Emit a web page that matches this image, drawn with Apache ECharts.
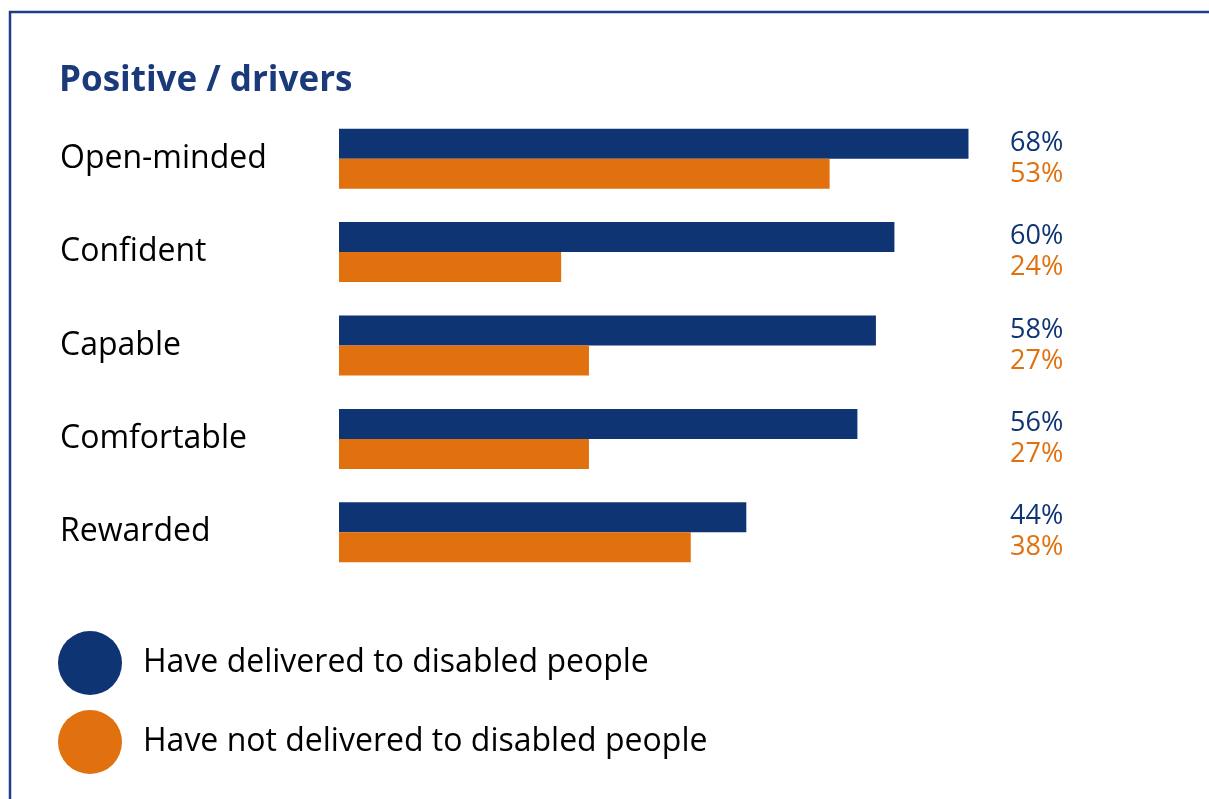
<!DOCTYPE html>
<html>
<head>
<meta charset="utf-8">
<script src="https://cdn.jsdelivr.net/npm/echarts@6/dist/echarts.min.js"></script>
<style>
  html, body { margin: 0; padding: 0; background: #fff; }
  #chart { width: 1209px; height: 799px; }
</style>
</head>
<body>
<div id="chart"></div>
<script>
// 数据
const categories = ["Open-minded", "Confident", "Capable", "Comfortable", "Rewarded"];
const delivered = [68, 60, 58, 56, 44];
const notDelivered = [53, 24, 27, 27, 38];
const seriesNames = ["Have delivered to disabled people", "Have not delivered to disabled people"];

const NAVY = "#0e3474";
const ORANGE = "#e1700e";
const FONT = "'Open Sans', 'Noto Sans', sans-serif";

const myChart = echarts.init(document.getElementById("chart"));

myChart.setOption({
	animation: false,
	textStyle: { fontFamily: FONT },
	title: {
		text: "Positive / drivers",
		left: 54,
		top: 59,
		textStyle: {
			color: "#1a3a7a",
			fontSize: 35,
			fontWeight: "bold",
			fontFamily: FONT,
		},
	},
	// 外框
	graphic: [
		{
			type: "polyline",
			shape: { points: [[10, 805], [10, 12], [1215, 12]] },
			style: { stroke: "#1f3d82", lineWidth: 2.5, fill: null },
			silent: true,
		},
	],
	legend: {
		orient: "vertical",
		left: 53,
		top: 626,
		itemWidth: 64,
		itemHeight: 64,
		itemGap: 15,
		icon: "circle",
		data: seriesNames,
		textStyle: {
			color: "#000",
			fontSize: 32,
			fontFamily: FONT,
			padding: [0, 0, 0, 16],
		},
	},
	grid: {
		left: 339,
		width: 648,
		top: 112,
		height: 467,
		containLabel: false,
	},
	xAxis: {
		type: "value",
		min: 0,
		max: 70,
		show: false,
	},
	yAxis: [
		{
			type: "category",
			data: categories,
			inverse: true,
			axisLine: { show: false },
			axisTick: { show: false },
			axisLabel: {
				align: "left",
				margin: 279,
				color: "#000",
				fontSize: 32,
				fontFamily: FONT,
				padding: [5, 0, 0, 0],
			},
		},
		{
			type: "category",
			data: categories,
			inverse: true,
			position: "right",
			axisLine: { show: false },
			axisTick: { show: false },
			axisLabel: {
				margin: 23,
				formatter: (value, index) =>
					"{a|" + delivered[index] + "%}\n{b|" + notDelivered[index] + "%}",
				rich: {
					a: { color: NAVY, fontSize: 27, lineHeight: 31, fontFamily: FONT },
					b: { color: ORANGE, fontSize: 27, lineHeight: 31, fontFamily: FONT },
				},
			},
		},
	],
	series: [
		{
			name: seriesNames[0],
			type: "bar",
			data: delivered,
			barWidth: 30,
			barGap: "0%",
			itemStyle: { color: NAVY },
		},
		{
			name: seriesNames[1],
			type: "bar",
			data: notDelivered,
			barWidth: 30,
			barGap: "0%",
			itemStyle: { color: ORANGE },
		},
	],
});
</script>
</body>
</html>
